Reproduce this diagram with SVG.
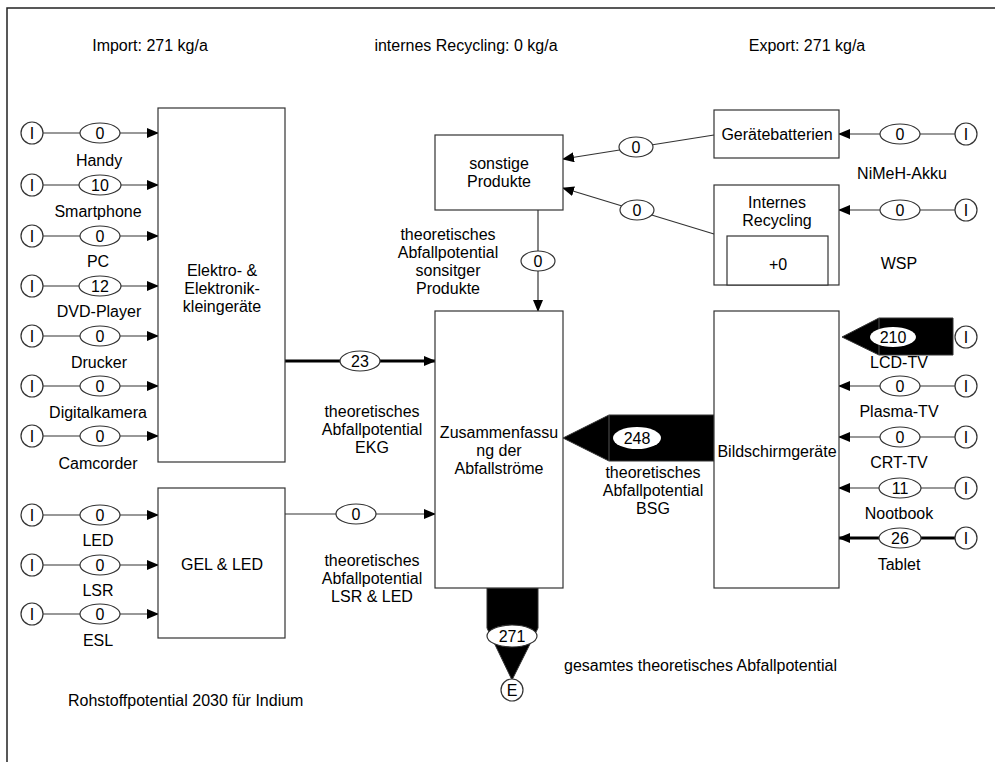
<svg xmlns="http://www.w3.org/2000/svg" width="995" height="762" viewBox="0 0 995 762">
<style>
text{font-family:"Liberation Sans",Arial,sans-serif;font-size:16px;fill:#000;text-anchor:middle}
.st{text-anchor:start}
.box{fill:#fff;stroke:#333;stroke-width:1.2}
.c{fill:#fff;stroke:#333;stroke-width:1.2}
.ln{stroke:#333;stroke-width:1.2;fill:none}
.thk{stroke:#000;stroke-width:3;fill:none}
.blk{fill:#000;stroke:#333;stroke-width:1}
</style>
<defs>
<marker id="ar" markerWidth="12" markerHeight="10" refX="11" refY="5" orient="auto" markerUnits="userSpaceOnUse">
<path d="M0,0 L12,5 L0,10 Z" fill="#000"/>
</marker>
</defs>
<rect width="995" height="762" fill="#fff"/>
<path d="M7,762 V8 H995" fill="none" stroke="#222" stroke-width="1.5"/>

<g id="header">
<text x="150" y="51">Import: 271 kg/a</text>
<text x="466" y="51">internes Recycling: 0 kg/a</text>
<text x="807" y="51">Export: 271 kg/a</text>
<text class="st" x="68" y="706">Rohstoffpotential 2030 für Indium</text>
<text class="st" x="564" y="671">gesamtes theoretisches Abfallpotential</text>
</g>

<g id="connectors">
<!-- left inputs to Elektro -->
<path class="ln" d="M43,133 H80 M120,133 H158" marker-end="url(#ar)"/>
<path class="ln" d="M43,185 H80 M120,185 H158" marker-end="url(#ar)"/>
<path class="ln" d="M43,236 H80 M120,236 H158" marker-end="url(#ar)"/>
<path class="ln" d="M43,286 H80 M120,286 H158" marker-end="url(#ar)"/>
<path class="ln" d="M43,336 H80 M120,336 H158" marker-end="url(#ar)"/>
<path class="ln" d="M43,386 H80 M120,386 H158" marker-end="url(#ar)"/>
<path class="ln" d="M43,436 H80 M120,436 H158" marker-end="url(#ar)"/>
<path class="ln" d="M43,515 H80 M120,515 H158" marker-end="url(#ar)"/>
<path class="ln" d="M43,565 H80 M120,565 H158" marker-end="url(#ar)"/>
<path class="ln" d="M43,614 H80 M120,614 H158" marker-end="url(#ar)"/>
<!-- EKG, GEL -->
<path class="thk" d="M285,361 H435" marker-end="url(#ar)"/>
<path class="ln" d="M285,514 H435" marker-end="url(#ar)"/>
<!-- sonstige down -->
<path class="ln" d="M538,210 V311" marker-end="url(#ar)"/>
<!-- batteries / recycling to sonstige -->
<path class="ln" d="M714,135 L563,159" marker-end="url(#ar)"/>
<path class="ln" d="M714,234 L563,188" marker-end="url(#ar)"/>
<!-- right inputs -->
<path class="ln" d="M955,134 H920 M880,134 H839" marker-end="url(#ar)"/>
<path class="ln" d="M955,210 H920 M880,210 H839" marker-end="url(#ar)"/>
<path class="ln" d="M955,386 H920 M880,386 H839" marker-end="url(#ar)"/>
<path class="ln" d="M955,437 H920 M880,437 H839" marker-end="url(#ar)"/>
<path class="ln" d="M955,488 H921 M879,488 H839" marker-end="url(#ar)"/>
<path class="thk" d="M955,538 H921 M879,538 H839" marker-end="url(#ar)"/>
<!-- thick flows -->
<path class="blk" d="M842,337 L879,318 H953 V355 H879 Z"/>
<line x1="879" y1="318" x2="879" y2="355" stroke="#555" stroke-width="1"/>
<path class="blk" d="M563,438 L609,415 H714 V461 H609 Z"/>
<line x1="609" y1="415" x2="609" y2="461" stroke="#555" stroke-width="1"/>
<path class="blk" d="M487,588 H538 V628 L512,680 L487,628 Z"/>
</g>

<g id="inputs-left">
<circle class="c" cx="32" cy="133" r="11"/><text x="32" y="139">I</text>
<circle class="c" cx="32" cy="185" r="11"/><text x="32" y="191">I</text>
<circle class="c" cx="32" cy="236" r="11"/><text x="32" y="242">I</text>
<circle class="c" cx="32" cy="286" r="11"/><text x="32" y="292">I</text>
<circle class="c" cx="32" cy="336" r="11"/><text x="32" y="342">I</text>
<circle class="c" cx="32" cy="386" r="11"/><text x="32" y="392">I</text>
<circle class="c" cx="32" cy="436" r="11"/><text x="32" y="442">I</text>
<circle class="c" cx="32" cy="515" r="11"/><text x="32" y="521">I</text>
<circle class="c" cx="32" cy="565" r="11"/><text x="32" y="571">I</text>
<circle class="c" cx="32" cy="614" r="11"/><text x="32" y="620">I</text>
</g>
<g id="flows-left">
<ellipse class="c" cx="100" cy="133" rx="20" ry="10"/><text x="100" y="139">0</text>
<ellipse class="c" cx="100" cy="185" rx="21" ry="10"/><text x="100" y="191">10</text>
<ellipse class="c" cx="100" cy="236" rx="20" ry="10"/><text x="100" y="242">0</text>
<ellipse class="c" cx="100" cy="286" rx="21" ry="10"/><text x="100" y="292">12</text>
<ellipse class="c" cx="100" cy="336" rx="20" ry="10"/><text x="100" y="342">0</text>
<ellipse class="c" cx="100" cy="386" rx="20" ry="10"/><text x="100" y="392">0</text>
<ellipse class="c" cx="100" cy="436" rx="20" ry="10"/><text x="100" y="442">0</text>
<ellipse class="c" cx="100" cy="515" rx="20" ry="10"/><text x="100" y="521">0</text>
<ellipse class="c" cx="100" cy="565" rx="20" ry="10"/><text x="100" y="571">0</text>
<ellipse class="c" cx="100" cy="614" rx="20" ry="10"/><text x="100" y="620">0</text>
<text x="99" y="166">Handy</text>
<text x="98" y="217">Smartphone</text>
<text x="98" y="267">PC</text>
<text x="99" y="317">DVD-Player</text>
<text x="99" y="368">Drucker</text>
<text x="98" y="418">Digitalkamera</text>
<text x="98" y="469">Camcorder</text>
<text x="98" y="546">LED</text>
<text x="98" y="596">LSR</text>
<text x="98" y="646">ESL</text>
</g>

<g id="elektro">
<rect class="box" x="158" y="108" width="127" height="354"/>
<text x="222" y="276">Elektro- &amp;</text>
<text x="222" y="294">Elektronik-</text>
<text x="222" y="312">kleingeräte</text>
</g>
<g id="gel-led">
<rect class="box" x="158" y="488" width="127" height="150"/>
<text x="222" y="570">GEL &amp; LED</text>
</g>

<g id="ekg-flow">
<ellipse class="c" cx="360" cy="361" rx="20" ry="10"/><text x="360" y="367">23</text>
<text x="372" y="417">theoretisches</text>
<text x="372" y="435">Abfallpotential</text>
<text x="372" y="453">EKG</text>
</g>
<g id="gel-flow">
<ellipse class="c" cx="356" cy="514" rx="20" ry="10"/><text x="356" y="520">0</text>
<text x="372" y="566">theoretisches</text>
<text x="372" y="584">Abfallpotential</text>
<text x="372" y="602">LSR &amp; LED</text>
</g>

<g id="sonstige">
<rect class="box" x="435" y="135" width="128" height="75"/>
<text x="499" y="169">sonstige</text>
<text x="499" y="187">Produkte</text>
</g>
<g id="sonstige-flow">
<ellipse class="c" cx="538" cy="261" rx="17" ry="10"/><text x="538" y="267">0</text>
<text x="448" y="240">theoretisches</text>
<text x="448" y="258">Abfallpotential</text>
<text x="448" y="276">sonsitger</text>
<text x="448" y="294">Produkte</text>
</g>

<g id="zusammenfassung">
<rect class="box" x="435" y="311" width="128" height="277"/>
<text x="499" y="438">Zusammenfassu</text>
<text x="499" y="456">ng der</text>
<text x="499" y="474">Abfallströme</text>
</g>

<g id="geraetebatterien">
<rect class="box" x="714" y="110" width="125" height="48"/>
<text x="777" y="140">Gerätebatterien</text>
</g>
<g id="internes-recycling">
<rect class="box" x="714" y="185" width="125" height="100"/>
<text x="777" y="208">Internes</text>
<text x="777" y="226">Recycling</text>
<rect class="box" x="727" y="236" width="101" height="49"/>
<text x="778" y="270">+0</text>
</g>
<g id="batt-flows">
<ellipse class="c" cx="636" cy="147" rx="17" ry="10"/><text x="636" y="153">0</text>
<ellipse class="c" cx="637" cy="210" rx="17" ry="10"/><text x="637" y="216">0</text>
</g>

<g id="bildschirm">
<rect class="box" x="714" y="311" width="125" height="277"/>
<text x="777" y="457">Bildschirmgeräte</text>
</g>
<g id="bsg-flow">
<ellipse cx="637" cy="438" rx="24" ry="11" fill="#fff"/><text x="637" y="444">248</text>
<text x="653" y="478">theoretisches</text>
<text x="653" y="496">Abfallpotential</text>
<text x="653" y="514">BSG</text>
</g>

<g id="inputs-right">
<circle class="c" cx="966" cy="134" r="11"/><text x="966" y="140">I</text>
<circle class="c" cx="966" cy="210" r="11"/><text x="966" y="216">I</text>
<circle class="c" cx="966" cy="337" r="11"/><text x="966" y="343">I</text>
<circle class="c" cx="966" cy="386" r="11"/><text x="966" y="392">I</text>
<circle class="c" cx="966" cy="437" r="11"/><text x="966" y="443">I</text>
<circle class="c" cx="966" cy="488" r="11"/><text x="966" y="494">I</text>
<circle class="c" cx="966" cy="538" r="11"/><text x="966" y="544">I</text>
</g>
<g id="flows-right">
<ellipse class="c" cx="900" cy="134" rx="20" ry="10"/><text x="900" y="140">0</text>
<ellipse class="c" cx="900" cy="210" rx="20" ry="10"/><text x="900" y="216">0</text>
<ellipse cx="893" cy="337" rx="23" ry="10" fill="#fff"/><text x="893" y="343">210</text>
<ellipse class="c" cx="900" cy="386" rx="20" ry="10"/><text x="900" y="392">0</text>
<ellipse class="c" cx="900" cy="437" rx="20" ry="10"/><text x="900" y="443">0</text>
<ellipse class="c" cx="900" cy="488" rx="21" ry="10"/><text x="900" y="494">11</text>
<ellipse class="c" cx="900" cy="538" rx="21" ry="10"/><text x="900" y="544">26</text>
<text x="902" y="179">NiMeH-Akku</text>
<text x="899" y="269">WSP</text>
<text x="899" y="368">LCD-TV</text>
<text x="899" y="417">Plasma-TV</text>
<text x="899" y="468">CRT-TV</text>
<text x="899" y="519">Nootbook</text>
<text x="899" y="570">Tablet</text>
</g>

<g id="export">
<ellipse class="c" cx="512" cy="636" rx="25" ry="11"/><text x="512" y="642">271</text>
<circle class="c" cx="512" cy="690" r="11"/><text x="512" y="696">E</text>
</g>
</svg>
